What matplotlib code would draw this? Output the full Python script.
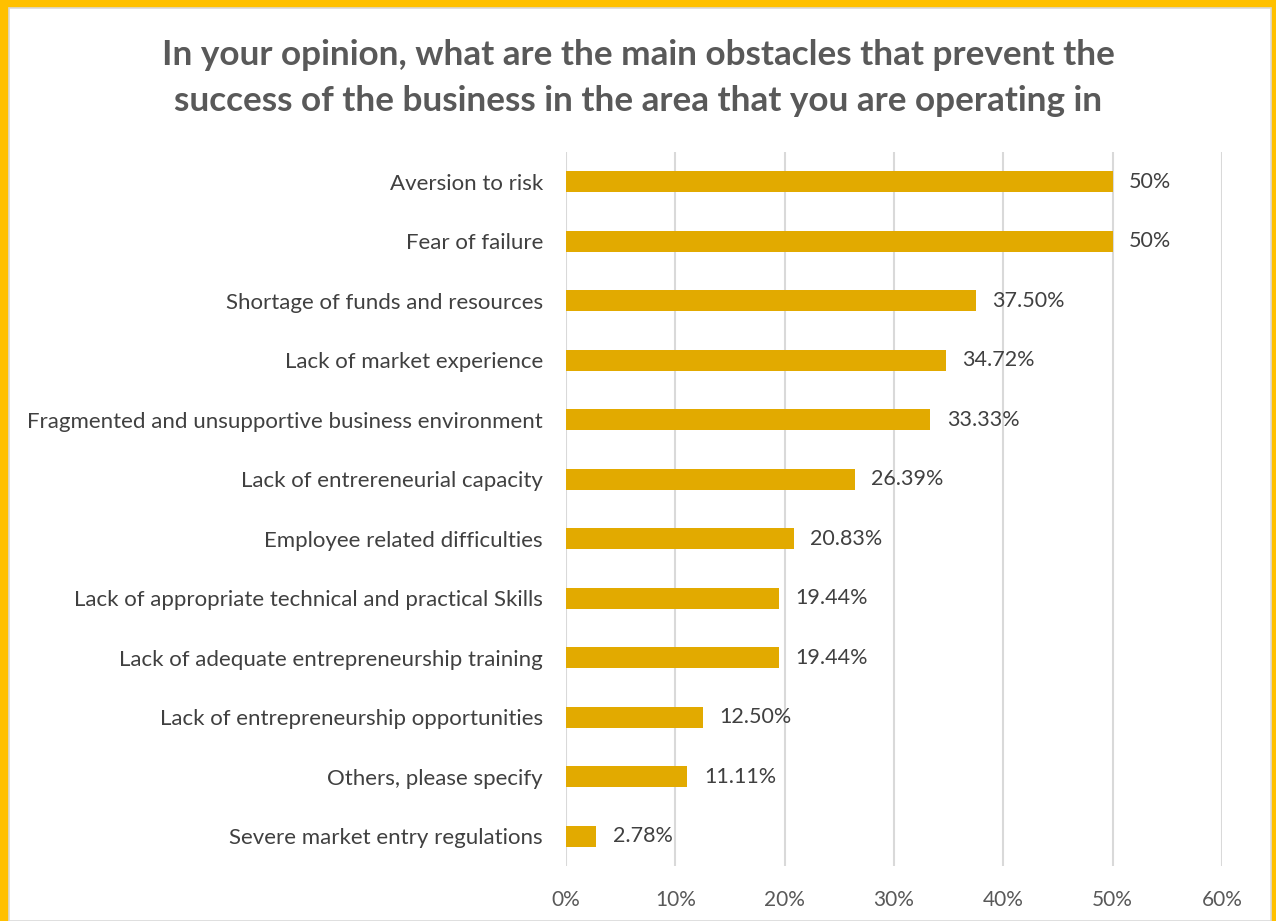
import matplotlib.pyplot as plt
import matplotlib.ticker as mtick
from matplotlib.patches import Rectangle

categories = [
    "Aversion to risk",
    "Fear of failure",
    "Shortage of funds and resources",
    "Lack of market experience",
    "Fragmented and unsupportive business environment",
    "Lack of entrereneurial capacity",
    "Employee related difficulties",
    "Lack of appropriate technical and practical Skills",
    "Lack of adequate entrepreneurship training",
    "Lack of entrepreneurship opportunities",
    "Others, please specify",
    "Severe market entry regulations",
]
values = [50, 50, 37.50, 34.72, 33.33, 26.39, 20.83, 19.44, 19.44, 12.50, 11.11, 2.78]
value_labels = ["50%", "50%", "37.50%", "34.72%", "33.33%", "26.39%", "20.83%",
                "19.44%", "19.44%", "12.50%", "11.11%", "2.78%"]

W, H = 1276, 921
fig = plt.figure(figsize=(W / 100, H / 100), dpi=100, facecolor="#FFC000")
plt.rcParams['font.family'] = ['Lato', 'DejaVu Sans']

# white panel inside the gold frame
fig.patches.append(Rectangle((9 / W, 0), (1271 - 9) / W, (H - 8) / H,
                             transform=fig.transFigure, facecolor="white",
                             edgecolor="#D9D9D9", linewidth=1.2, zorder=-5))

ax = fig.add_axes([566 / W, 1 - 866 / H, (1222 - 566) / W, (866 - 152) / H])
ax.set_zorder(2)
ax.set_facecolor("none")

ypos = list(range(len(categories)))
ax.barh(ypos, values, height=0.35, color="#E2AA00", zorder=3)
for y, v, lab in zip(ypos, values, value_labels):
    ax.text(v + 1.5, y, lab, va="center", ha="left", fontsize=15.5, color="#404040")

ax.set_xlim(0, 60)
ax.set_ylim(len(categories) - 0.5, -0.5)
ax.set_yticks(ypos)
ax.set_yticklabels(categories, fontsize=16, color="#404040")
ax.set_xticks(range(0, 61, 10))
ax.xaxis.set_major_formatter(mtick.FormatStrFormatter('%d%%'))
ax.tick_params(axis='x', labelsize=15, labelcolor="#595959", length=0, pad=17)
ax.tick_params(axis='y', length=0, pad=16.5)
ax.grid(axis='x', color="#D9D9D9", linewidth=1.5, zorder=0)
for s in ax.spines.values():
    s.set_visible(False)

fig.text(0.5, 1 - 78 / H,
         "In your opinion, what are the main obstacles that prevent the\n"
         "success of the business in the area that you are operating in",
         ha="center", va="center", fontsize=25.3, fontweight="bold",
         color="#595959", linespacing=1.55)

plt.savefig("out.png", dpi=100, facecolor=fig.get_facecolor())
